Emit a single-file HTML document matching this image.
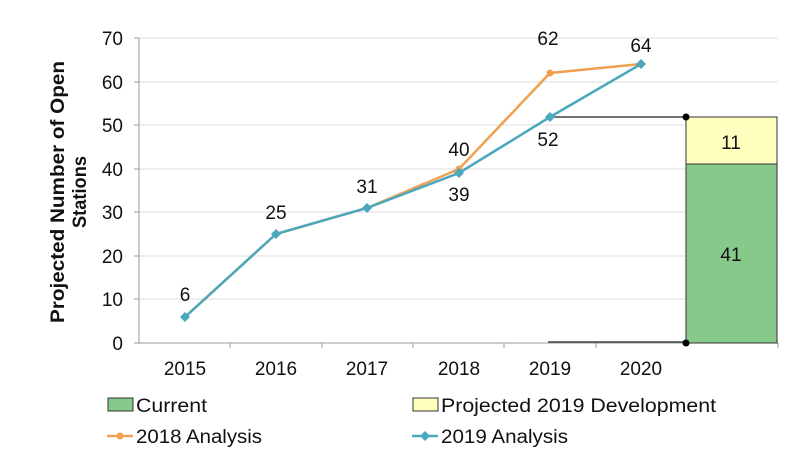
<!DOCTYPE html>
<html><head><meta charset="utf-8"><style>body{margin:0;background:#fff}svg{display:block}</style></head><body>
<svg width="800" height="476" viewBox="0 0 800 476" font-family="Liberation Sans, sans-serif" fill="#111">
<g stroke="#ddd" stroke-width="1">
<line x1="139" y1="38" x2="778" y2="38"/><line x1="139" y1="82" x2="778" y2="82"/><line x1="139" y1="125" x2="778" y2="125"/><line x1="139" y1="169" x2="778" y2="169"/><line x1="139" y1="212" x2="778" y2="212"/><line x1="139" y1="256" x2="778" y2="256"/><line x1="139" y1="299" x2="778" y2="299"/>
</g>
<g stroke="#999" stroke-width="1">
<line x1="139" y1="38" x2="139" y2="343"/><line x1="134" y1="343" x2="778" y2="343"/>
<line x1="134" y1="38" x2="139" y2="38"/><line x1="134" y1="82" x2="139" y2="82"/><line x1="134" y1="125" x2="139" y2="125"/><line x1="134" y1="169" x2="139" y2="169"/><line x1="134" y1="212" x2="139" y2="212"/><line x1="134" y1="256" x2="139" y2="256"/><line x1="134" y1="299" x2="139" y2="299"/>
<line x1="230" y1="343" x2="230" y2="348"/><line x1="322" y1="343" x2="322" y2="348"/><line x1="413" y1="343" x2="413" y2="348"/><line x1="504" y1="343" x2="504" y2="348"/><line x1="596" y1="343" x2="596" y2="348"/><line x1="778" y1="343" x2="778" y2="348"/>
</g>
<g font-size="19" text-anchor="end"><text x="123" y="45">70</text><text x="123" y="89">60</text><text x="123" y="132">50</text><text x="123" y="176">40</text><text x="123" y="219">30</text><text x="123" y="263">20</text><text x="123" y="306">10</text><text x="123" y="350">0</text></g>
<g font-size="19" text-anchor="middle"><text x="185" y="375">2015</text><text x="276" y="375">2016</text><text x="367" y="375">2017</text><text x="459" y="375">2018</text><text x="550" y="375">2019</text><text x="641" y="375">2020</text></g>
<text transform="translate(64,192) rotate(-90)" font-size="19" font-weight="bold" text-anchor="middle" textLength="262" lengthAdjust="spacingAndGlyphs">Projected Number of Open</text>
<text transform="translate(86,192) rotate(-90)" font-size="19" font-weight="bold" text-anchor="middle" textLength="72" lengthAdjust="spacingAndGlyphs">Stations</text>
<rect x="686" y="164" width="91" height="179" fill="#86c98a" stroke="#333"/>
<rect x="686" y="117" width="91" height="47" fill="#ffffc0" stroke="#333"/>
<line x1="548" y1="117" x2="686" y2="117" stroke="#444" stroke-width="1.5"/>
<line x1="548" y1="342" x2="686" y2="342" stroke="#444" stroke-width="1.5"/>
<circle cx="686" cy="117" r="3.5" fill="#000"/><circle cx="686" cy="343" r="3.5" fill="#000"/>
<text x="731" y="149" font-size="19" text-anchor="middle">11</text>
<text x="731" y="261" font-size="19" text-anchor="middle">41</text>
<polyline points="185,317 276,234 367,208 459,169 550,73 641,64" fill="none" stroke="#f0a050" stroke-width="2.5"/>
<g fill="#f0a050"><circle cx="459" cy="169" r="3.5"/><circle cx="550" cy="73" r="3.5"/></g>
<polyline points="185,317 276,234 367,208 459,173 550,117 641,64" fill="none" stroke="#4aa8bc" stroke-width="2.5"/>
<g fill="#4aa8bc"><path d="M185,312l5,5l-5,5l-5,-5z"/><path d="M276,229l5,5l-5,5l-5,-5z"/><path d="M367,203l5,5l-5,5l-5,-5z"/><path d="M459,168l5,5l-5,5l-5,-5z"/><path d="M550,112l5,5l-5,5l-5,-5z"/><path d="M641,59l5,5l-5,5l-5,-5z"/></g>
<g font-size="19" text-anchor="middle"><text x="185" y="301">6</text><text x="276" y="219">25</text><text x="367" y="193">31</text><text x="459" y="156">40</text><text x="459" y="201">39</text><text x="548" y="45">62</text><text x="548" y="146">52</text><text x="641" y="52">64</text></g>
<rect x="108" y="398" width="25" height="13" fill="#86c98a" stroke="#333"/>
<text x="136" y="412" font-size="19" textLength="71" lengthAdjust="spacingAndGlyphs">Current</text>
<rect x="413" y="398" width="25" height="13" fill="#ffffc0" stroke="#333"/>
<text x="441" y="412" font-size="19" textLength="275" lengthAdjust="spacingAndGlyphs">Projected 2019 Development</text>
<line x1="107" y1="436" x2="133" y2="436" stroke="#f0a050" stroke-width="2.5"/><circle cx="120" cy="436" r="3.5" fill="#f0a050"/>
<text x="136" y="443" font-size="19" textLength="126" lengthAdjust="spacingAndGlyphs">2018 Analysis</text>
<line x1="412" y1="436" x2="438" y2="436" stroke="#4aa8bc" stroke-width="2.5"/><path d="M425,431l5,5l-5,5l-5,-5z" fill="#4aa8bc"/>
<text x="441" y="443" font-size="19" textLength="127" lengthAdjust="spacingAndGlyphs">2019 Analysis</text>
</svg>
</body></html>
